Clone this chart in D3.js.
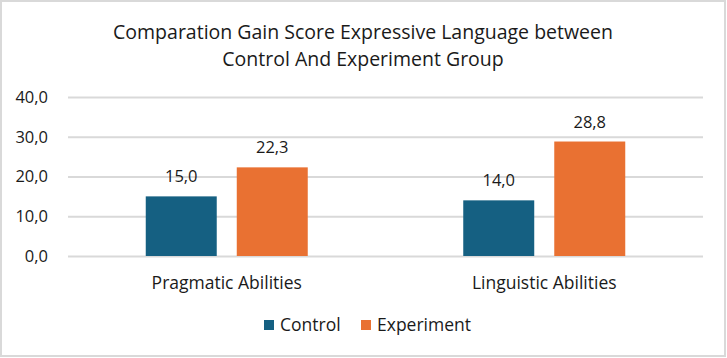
<!DOCTYPE html>
<html>
<head>
<meta charset="utf-8">
<script src="https://cdn.jsdelivr.net/npm/d3@7"></script>
<style>
  body { margin: 0; background: #fff; }
  text { font-family: "Segoe UI", "Open Sans", sans-serif; fill: #1a1a1a; }
</style>
</head>
<body>
<div id="chart"></div>
<script>
var categories = ["Pragmatic Abilities", "Linguistic Abilities"];
var seriesNames = ["Control", "Experiment"];
var controlValues = [15.0, 14.0];
var experimentValues = [22.3, 28.8];
var yTicks = [0, 10, 20, 30, 40];
var titleLines = ["Comparation Gain Score Expressive Language between", "Control And Experiment Group"];

var w = 727, h = 358;
var colors = ["#156082", "#E97132"];
var fmt = function(v) { return d3.format(".1f")(v).replace(".", ","); };

var svg = d3.select("#chart").append("svg")
  .attr("width", w)
  .attr("height", h);

// outer border
svg.append("rect")
  .attr("x", 1).attr("y", 1)
  .attr("width", w - 3).attr("height", h - 3)
  .attr("fill", "#fff")
  .attr("stroke", "#d9d9d9")
  .attr("stroke-width", 2);

var x0 = d3.scaleBand()
  .domain(categories)
  .range([68, 703]);

var x1 = d3.scaleBand()
  .domain(seriesNames)
  .range([0, 162])
  .paddingInner(0.22);

var yScale = d3.scaleLinear()
  .domain([0, 40])
  .range([256, 97]);

// gridlines + tick labels
var yAxis = d3.axisLeft(yScale)
  .tickValues(yTicks)
  .tickSize(-(703 - 68))
  .tickPadding(20)
  .tickFormat(fmt);

var gy = svg.append("g")
  .attr("transform", "translate(68,0)")
  .call(yAxis);
gy.select(".domain").remove();
gy.selectAll(".tick line").attr("stroke", "#d9d9d9").attr("stroke-width", 2);
gy.selectAll(".tick text")
  .attr("x", -20)
  .style("font-family", '"Segoe UI", "Open Sans", sans-serif')
  .style("font-size", "16.5px")
  .attr("fill", "#1a1a1a");

var rows = categories.map(function(c, i) {
  return { cat: c, vals: [controlValues[i], experimentValues[i]] };
});

var groups = svg.selectAll(".grp")
  .data(rows)
  .enter()
  .append("g")
  .attr("class", "grp")
  .attr("transform", function(d) {
    return "translate(" + (x0(d.cat) + x0.bandwidth() / 2 - 81) + ",0)";
  });

groups.selectAll("rect")
  .data(function(d) { return d.vals.map(function(v, j) { return { s: seriesNames[j], v: v, j: j }; }); })
  .enter()
  .append("rect")
  .attr("x", function(d) { return x1(d.s); })
  .attr("y", function(d) { return yScale(d.v); })
  .attr("width", x1.bandwidth())
  .attr("height", function(d) { return yScale(0) - yScale(d.v); })
  .attr("fill", function(d) { return colors[d.j]; });

groups.selectAll(".lbl")
  .data(function(d) { return d.vals.map(function(v, j) { return { s: seriesNames[j], v: v }; }); })
  .enter()
  .append("text")
  .attr("class", "lbl")
  .attr("x", function(d) { return x1(d.s) + x1.bandwidth() / 2; })
  .attr("y", function(d) { return yScale(d.v) - 14; })
  .attr("text-anchor", "middle")
  .style("font-size", "16.5px")
  .text(function(d) { return fmt(d.v); });

// category labels
svg.selectAll(".cat")
  .data(categories)
  .enter()
  .append("text")
  .attr("class", "cat")
  .attr("x", function(d) { return x0(d) + x0.bandwidth() / 2; })
  .attr("y", 289)
  .attr("text-anchor", "middle")
  .style("font-size", "17.5px")
  .text(function(d) { return d; });

// title
svg.selectAll(".title")
  .data(titleLines)
  .enter()
  .append("text")
  .attr("class", "title")
  .attr("x", 363)
  .attr("y", function(d, i) { return 39 + i * 27; })
  .attr("text-anchor", "middle")
  .style("font-size", "19.5px")
  .text(function(d) { return d; });

// legend
var legend = svg.append("g").attr("transform", "translate(264,320)");
var lx = [0, 97];
seriesNames.forEach(function(name, i) {
  legend.append("rect")
    .attr("x", lx[i]).attr("y", 0)
    .attr("width", 10).attr("height", 10)
    .attr("fill", colors[i]);
  legend.append("text")
    .attr("x", lx[i] + 16).attr("y", 11)
    .style("font-size", "17.5px")
    .text(name);
});
</script>
</body>
</html>
